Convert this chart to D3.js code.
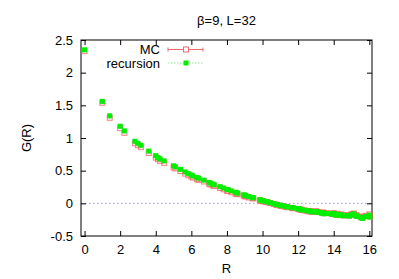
<!DOCTYPE html>
<html><head><meta charset="utf-8">
<script src="https://cdn.jsdelivr.net/npm/d3@7"></script>
<style>body{margin:0;background:#fff}svg{display:block}text{font-family:"Liberation Sans",Arial,sans-serif;font-size:13px;fill:#000}</style>
</head><body>
<script>
const title = "β=9, L=32";
const xLabel = "R", yLabel = "G(R)";
const seriesNames = ["MC", "recursion"];
const xTicks = [0, 2, 4, 6, 8, 10, 12, 14, 16];
const yTicks = [-0.5, 0, 0.5, 1, 1.5, 2, 2.5];
const yTickLabels = ["-0.5", "0", "0.5", "1", "1.5", "2", "2.5"];

const R = [0,1,1.414,2,2.236,2.828,3,3.162,3.606,4,4.123,4.243,4.472,5,5.099,5.385,5.657,5.831,6,6.083,6.325,6.403,6.708,7,7.071,7.211,7.280,7.616,7.810,8,8.062,8.246,8.485,8.544,8.602,8.944,9,9.055,9.220,9.434,9.487,9.849,9.899,10,10.050,10.198,10.296,10.440,10.630,10.770,10.817,11,11.045,11.180,11.314,11.402,11.662,11.705,12,12.042,12.083,12.166,12.207,12.369,12.530,12.649,12.728,12.806,13,13.038,13.153,13.342,13.416,13.454,13.601,13.892,13.928,14,14.036,14.142,14.213,14.318,14.422,14.560,14.765,14.866,15,15.033,15.133,15.264,15.297,15.524,15.620,15.652,15.811,16,16.031];

const recursion = [2.35,1.56,1.34,1.18,1.11,0.95,0.92,0.89,0.80,0.73,0.70,0.68,0.65,0.575,0.56,0.52,0.48,0.455,0.435,0.42,0.395,0.385,0.355,0.32,0.31,0.295,0.285,0.255,0.235,0.215,0.21,0.19,0.17,0.165,0.155,0.13,0.125,0.12,0.105,0.09,0.085,0.055,0.05,0.04,0.04,0.03,0.02,0.01,-0.005,-0.015,-0.02,-0.03,-0.035,-0.04,-0.05,-0.055,-0.065,-0.07,-0.08,-0.085,-0.09,-0.095,-0.10,-0.105,-0.115,-0.12,-0.12,-0.13,-0.125,-0.13,-0.14,-0.15,-0.145,-0.16,-0.155,-0.16,-0.165,-0.155,-0.17,-0.18,-0.165,-0.185,-0.175,-0.19,-0.185,-0.195,-0.17,-0.18,-0.16,-0.19,-0.20,-0.22,-0.23,-0.215,-0.20,-0.18,-0.21];

const mc = [2.33,1.54,1.31,1.15,1.08,0.92,0.89,0.86,0.77,0.70,0.675,0.65,0.62,0.55,0.535,0.495,0.455,0.43,0.41,0.395,0.37,0.36,0.335,0.30,0.29,0.275,0.265,0.235,0.215,0.195,0.19,0.17,0.15,0.145,0.14,0.115,0.11,0.105,0.09,0.08,0.075,0.045,0.04,0.035,0.03,0.02,0.015,0.005,-0.01,-0.02,-0.025,-0.035,-0.04,-0.045,-0.055,-0.06,-0.07,-0.075,-0.085,-0.09,-0.09,-0.10,-0.10,-0.11,-0.12,-0.12,-0.125,-0.13,-0.12,-0.13,-0.135,-0.145,-0.14,-0.15,-0.15,-0.16,-0.16,-0.15,-0.165,-0.175,-0.16,-0.18,-0.17,-0.185,-0.18,-0.19,-0.165,-0.175,-0.155,-0.18,-0.19,-0.21,-0.22,-0.2,-0.19,-0.17,-0.2];

const mcErr = R.map(() => 0.012);

const W = 399, H = 279;
const L = 81, Rt = 372, T = 40, B = 236;
const x = d3.scaleLinear().domain([-0.2, 16.15]).range([L, Rt]);
const y = d3.scaleLinear().domain([-0.5, 2.5]).range([B, T]);

const svg = d3.select("body").append("svg").attr("width", W).attr("height", H);

// zero line
svg.append("line").attr("x1", L).attr("x2", Rt).attr("y1", y(0)).attr("y2", y(0))
  .attr("stroke", "#9a9af0").attr("stroke-width", 1).attr("stroke-dasharray", "1.5,2.5");

// axes
const gL = svg.append("g").attr("transform", `translate(${L},0)`)
  .call(d3.axisLeft(y).tickValues(yTicks).tickFormat((d, i) => yTickLabels[i]).tickSizeInner(-5).tickSizeOuter(0).tickPadding(8));
const gR = svg.append("g").attr("transform", `translate(${Rt},0)`)
  .call(d3.axisRight(y).tickValues(yTicks).tickFormat("").tickSizeInner(-5).tickSizeOuter(0));
const gB = svg.append("g").attr("transform", `translate(0,${B})`)
  .call(d3.axisBottom(x).tickValues(xTicks).tickFormat(d => String(d)).tickSizeInner(-5).tickSizeOuter(0).tickPadding(9));
const gT = svg.append("g").attr("transform", `translate(0,${T})`)
  .call(d3.axisTop(x).tickValues(xTicks).tickFormat("").tickSizeInner(-5).tickSizeOuter(0));
[gL, gR, gB, gT].forEach(g => {
  g.select(".domain").remove();
  g.selectAll("line").attr("stroke", "#000");
  g.selectAll("text").attr("font-size", 13).attr("font-family", '"Liberation Sans",Arial,sans-serif').attr("fill", "#000");
});

// border
svg.append("rect").attr("x", L).attr("y", T).attr("width", Rt - L).attr("height", B - T)
  .attr("fill", "none").attr("stroke", "#000").attr("stroke-width", 1);

const red = "#f06a6a", green = "#00ee00";
const data = R.map((r, i) => ({ r, g: recursion[i], m: mc[i], e: mcErr[i] }));

// MC error bars
svg.append("g").selectAll("line").data(data).join("line")
  .attr("x1", d => x(d.r)).attr("x2", d => x(d.r))
  .attr("y1", d => y(d.m - d.e)).attr("y2", d => y(d.m + d.e))
  .attr("stroke", red).attr("stroke-width", 1);
// MC open squares
svg.append("g").selectAll("rect").data(data).join("rect")
  .attr("x", d => x(d.r) - 2.5).attr("y", d => y(d.m) - 2.5).attr("width", 5).attr("height", 5)
  .attr("fill", "none").attr("stroke", red).attr("stroke-width", 1).attr("opacity", 0.85);
// recursion filled squares
svg.append("g").selectAll("rect").data(data).join("rect")
  .attr("x", d => x(d.r) - 2.5).attr("y", d => y(d.g) - 2.5).attr("width", 5).attr("height", 5)
  .attr("fill", green);

// legend
const lx1 = 168, lx2 = 203, lm = 186;
const ly1 = 49.5, ly2 = 63;
svg.append("text").attr("x", 160).attr("y", 53.5).attr("text-anchor", "end").attr("font-size", 12.5).text(seriesNames[0]);
svg.append("text").attr("x", 160).attr("y", 67.5).attr("text-anchor", "end").attr("font-size", 12.5).text(seriesNames[1]);
svg.append("line").attr("x1", lx1).attr("x2", lx2).attr("y1", ly1).attr("y2", ly1).attr("stroke", red).attr("stroke-width", 1);
svg.append("line").attr("x1", lx1).attr("x2", lx1).attr("y1", ly1 - 2).attr("y2", ly1 + 2).attr("stroke", red);
svg.append("line").attr("x1", lx2).attr("x2", lx2).attr("y1", ly1 - 2).attr("y2", ly1 + 2).attr("stroke", red);
svg.append("rect").attr("x", lm - 2.5).attr("y", ly1 - 2.5).attr("width", 5).attr("height", 5)
  .attr("fill", "#fff").attr("stroke", red);
svg.append("line").attr("x1", lx1).attr("x2", lx2).attr("y1", ly2).attr("y2", ly2)
  .attr("stroke", "#88ee88").attr("stroke-width", 1).attr("stroke-dasharray", "1.5,1.5");
svg.append("rect").attr("x", lm - 2.5).attr("y", ly2 - 2.5).attr("width", 5).attr("height", 5).attr("fill", green);

// title and labels
svg.append("text").attr("x", (L + Rt) / 2).attr("y", 25).attr("text-anchor", "middle").text(title);
svg.append("text").attr("x", (L + Rt) / 2).attr("y", 273).attr("text-anchor", "middle").text(xLabel);
svg.append("text").attr("transform", `translate(31,${(T + B) / 2}) rotate(-90)`).attr("text-anchor", "middle").text(yLabel);
</script>
</body></html>
